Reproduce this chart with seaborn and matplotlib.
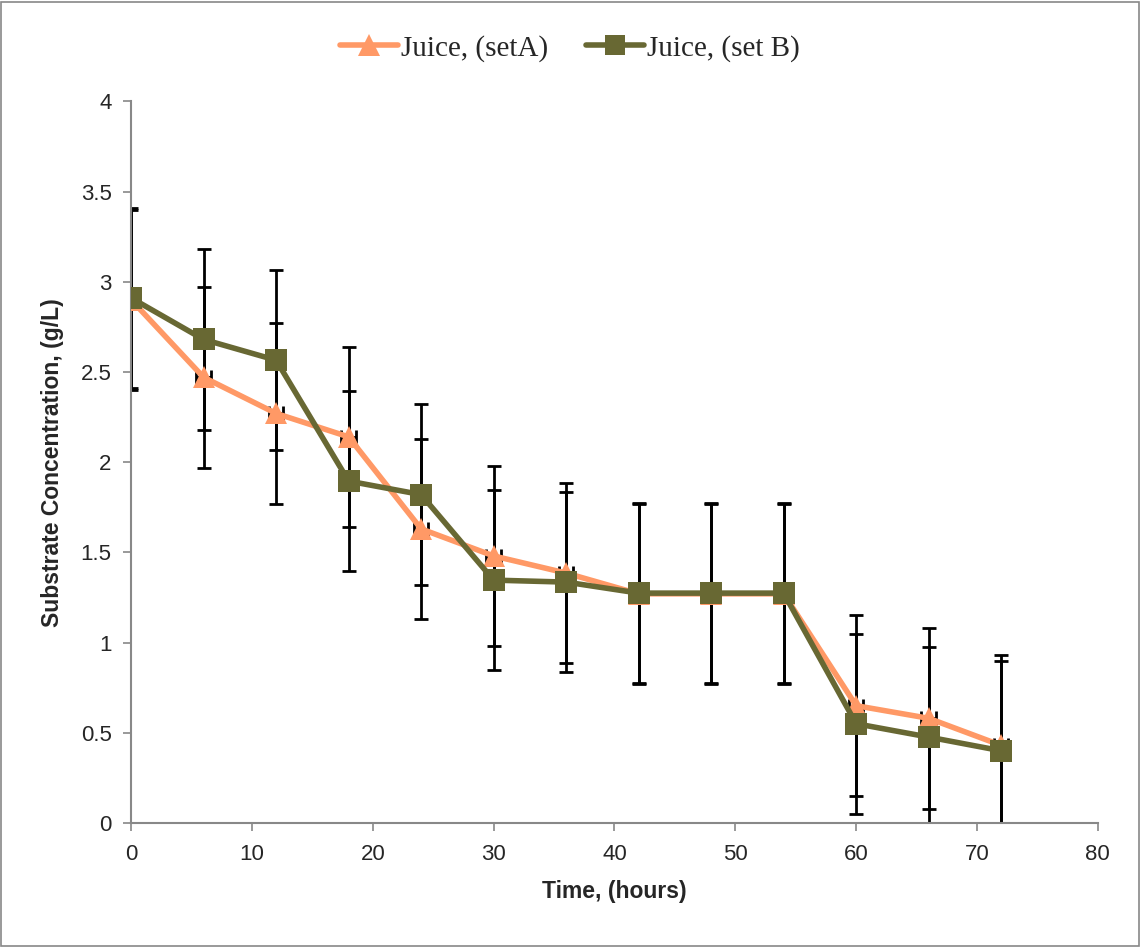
import matplotlib
matplotlib.use("Agg")
import matplotlib.pyplot as plt
import seaborn as sns
import pandas as pd
import numpy as np
from matplotlib.patches import Rectangle
from matplotlib.lines import Line2D

time_h = [0, 6, 12, 18, 24, 30, 36, 42, 48, 54, 60, 66, 72]
set_a = [2.90, 2.47, 2.27, 2.14, 1.63, 1.48, 1.385, 1.27, 1.27, 1.27, 0.65, 0.58, 0.43]
set_b = [2.91, 2.68, 2.565, 1.895, 1.82, 1.346, 1.335, 1.274, 1.274, 1.274, 0.55, 0.476, 0.40]
err_a = [0.5] * 13
err_b = [0.5] * 13
xerr = [0.6] * 13
label_a = "Juice, (setA)"
label_b = "Juice, (set B)"

color_a = "#FF9966"
color_b = "#686833"

sns.set_style("white")
plt.rcParams['font.family'] = ['Liberation Sans', 'DejaVu Sans']

fig = plt.figure(figsize=(11.4, 9.47), dpi=100)
ax = fig.add_axes([0.115, 0.131, 0.848, 0.762])

df = pd.DataFrame({
    "Time": time_h * 2,
    "Conc": set_a + set_b,
    "Set": [label_a] * len(time_h) + [label_b] * len(time_h),
})

# error bars
for y, e in ((set_a, err_a), (set_b, err_b)):
    ax.errorbar(time_h, y, yerr=e, xerr=xerr, fmt='none', ecolor='black',
                elinewidth=2, capsize=5, capthick=2, zorder=2)

sns.lineplot(data=df, x="Time", y="Conc", hue="Set", style="Set",
             markers={label_a: '^', label_b: 's'}, dashes=False,
             palette={label_a: color_a, label_b: color_b},
             linewidth=4, markersize=16, markeredgewidth=0,
             legend=False, ax=ax, zorder=3)

ax.set_xlim(0, 80)
ax.set_ylim(0, 4)
ax.set_xticks(np.arange(0, 81, 10))
ax.set_yticks(np.arange(0, 4.01, 0.5))
ax.set_yticklabels(["0", "0.5", "1", "1.5", "2", "2.5", "3", "3.5", "4"])
ax.tick_params(axis='both', which='major', labelsize=16, direction='out',
               length=6, width=1.2, color='#888888', left=True, bottom=True)
ax.tick_params(axis='x', pad=9)
ax.tick_params(axis='y', pad=8)
for s in ['top', 'right']:
    ax.spines[s].set_visible(False)
for s in ['left', 'bottom']:
    ax.spines[s].set_color('#888888')
    ax.spines[s].set_linewidth(1.5)

ax.set_xlabel("Time, (hours)", fontsize=16.5, fontweight='bold', labelpad=11)
ax.set_ylabel("Substrate Concentration, (g/L)", fontsize=16.5, fontweight='bold', labelpad=12)

handles = [
    Line2D([0], [0], color=color_a, lw=4, marker='^', markersize=16, markeredgewidth=0),
    Line2D([0], [0], color=color_b, lw=4, marker='s', markersize=14, markeredgewidth=0),
]
fig.legend(handles, [label_a, label_b], loc='center', bbox_to_anchor=(0.5, 0.949),
           ncol=2, frameon=False, prop={'family': 'Liberation Serif', 'size': 21},
           handlelength=2.0, handletextpad=0.1, columnspacing=1.3)

fig.patches.append(Rectangle((0.001, 0.001), 0.998, 0.997, transform=fig.transFigure,
                             fill=False, edgecolor='#888888', linewidth=1.2))

fig.savefig("out.png", dpi=100)
